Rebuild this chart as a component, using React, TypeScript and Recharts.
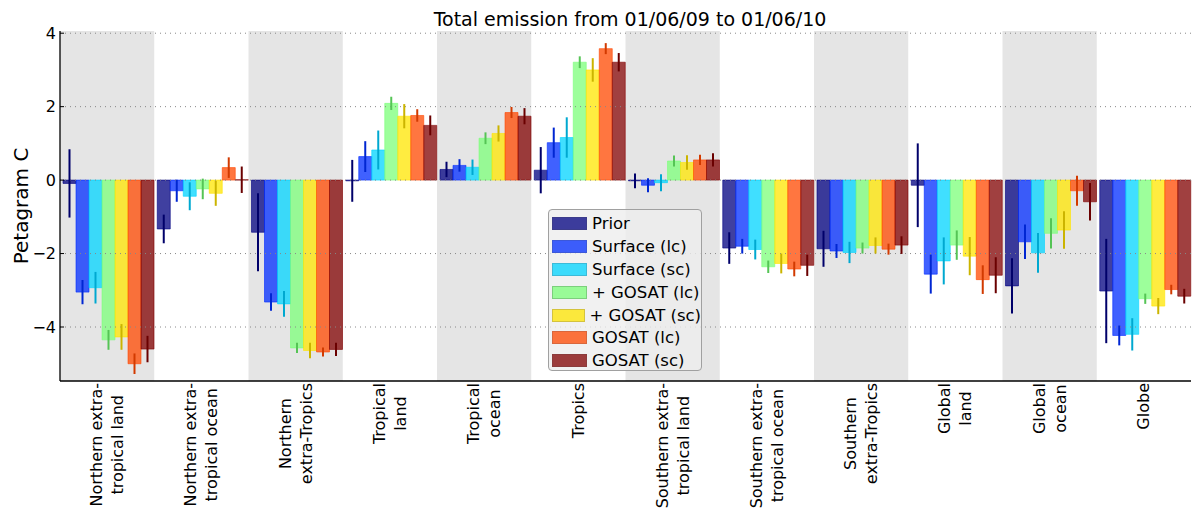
import {
  BarChart,
  Bar,
  ErrorBar,
  XAxis,
  YAxis,
  ReferenceArea,
  ReferenceLine,
} from "recharts"

const categories = [
  "Northern extra-\ntropical land",
  "Northern extra-\ntropical ocean",
  "Northern\nextra-Tropics",
  "Tropical\nland",
  "Tropical\nocean",
  "Tropics",
  "Southern extra-\ntropical land",
  "Southern extra-\ntropical ocean",
  "Southern\nextra-Tropics",
  "Global\nland",
  "Global\nocean",
  "Globe",
]

const prior = [-0.09, -1.33, -1.42, -0.02, 0.29, 0.27, -0.02, -1.85, -1.87, -0.14, -2.88, -3.02]
const priorErr = [0.93, 0.39, 1.06, 0.57, 0.21, 0.63, 0.2, 0.43, 0.49, 1.14, 0.75, 1.42]
const surfaceLc = [-3.05, -0.29, -3.32, 0.64, 0.4, 1.02, -0.14, -1.8, -1.93, -2.56, -1.68, -4.23]
const surfaceLcErr = [0.33, 0.3, 0.24, 0.42, 0.17, 0.41, 0.19, 0.2, 0.19, 0.53, 0.47, 0.27]
const surfaceSc = [-2.93, -0.44, -3.37, 0.82, 0.35, 1.16, -0.07, -1.89, -1.97, -2.2, -1.98, -4.2]
const surfaceScErr = [0.43, 0.38, 0.35, 0.53, 0.21, 0.55, 0.23, 0.27, 0.29, 0.64, 0.54, 0.44]
const plusGosatLc = [-4.35, -0.24, -4.57, 2.09, 1.14, 3.21, 0.52, -2.36, -1.85, -1.77, -1.45, -3.23]
const plusGosatLcErr = [0.27, 0.28, 0.14, 0.18, 0.16, 0.16, 0.15, 0.17, 0.15, 0.4, 0.41, 0.14]
const plusGosatSc = [-4.27, -0.36, -4.64, 1.74, 1.27, 3.0, 0.48, -2.27, -1.78, -2.07, -1.36, -3.43]
const plusGosatScErr = [0.35, 0.34, 0.21, 0.33, 0.22, 0.32, 0.2, 0.27, 0.22, 0.52, 0.51, 0.22]
const gosatLc = [-5.0, 0.34, -4.68, 1.76, 1.84, 3.58, 0.55, -2.42, -1.88, -2.71, -0.29, -2.98]
const gosatLcErr = [0.28, 0.28, 0.12, 0.17, 0.15, 0.15, 0.14, 0.2, 0.15, 0.39, 0.41, 0.13]
const gosatSc = [-4.6, 0.01, -4.61, 1.49, 1.74, 3.21, 0.55, -2.32, -1.77, -2.59, -0.59, -3.16]
const gosatScErr = [0.36, 0.36, 0.18, 0.27, 0.22, 0.25, 0.18, 0.29, 0.24, 0.49, 0.51, 0.2]

const yTicks = [-4, -2, 0, 2, 4]

const series = [
  { key: "prior", name: "Prior", values: prior, errors: priorErr, color: "#000080", errColor: "#00006a" },
  { key: "surfaceLc", name: "Surface (lc)", values: surfaceLc, errors: surfaceLcErr, color: "#002cff", errColor: "#0026d2" },
  { key: "surfaceSc", name: "Surface (sc)", values: surfaceSc, errors: surfaceScErr, color: "#00d4ff", errColor: "#00a8d0" },
  { key: "plusGosatLc", name: "+ GOSAT (lc)", values: plusGosatLc, errors: plusGosatLcErr, color: "#7cff79", errColor: "#55c455" },
  { key: "plusGosatSc", name: "+ GOSAT (sc)", values: plusGosatSc, errors: plusGosatScErr, color: "#ffe500", errColor: "#cbb400" },
  { key: "gosatLc", name: "GOSAT (lc)", values: gosatLc, errors: gosatLcErr, color: "#ff4800", errColor: "#d23a00" },
  { key: "gosatSc", name: "GOSAT (sc)", values: gosatSc, errors: gosatScErr, color: "#800000", errColor: "#6a0000" },
]

const data = categories.map((name, i) => {
  const row: Record<string, string | number> = { name }
  series.forEach((s) => {
    row[s.key] = s.values[i]
    row[s.key + "Err"] = s.errors[i]
  })
  return row
})

const FONT = "DejaVu Sans"

let ctx: CanvasRenderingContext2D | null = null
function textWidth(s: string, size: number) {
  if (!ctx) ctx = document.createElement("canvas").getContext("2d")
  if (!ctx) return s.length * size * 0.6
  ctx.font = `${size}px "${FONT}"`
  return ctx.measureText(s).width
}

function CategoryTick(props: any) {
  const { x, y, payload } = props
  const lines = String(payload.value).split("\n")
  const longest = Math.max(...lines.map((l) => textWidth(l, 16)))
  const cy = y + 2 + longest / 2
  const gap = 21
  return (
    <text
      transform={`rotate(-90 ${x} ${cy})`}
      textAnchor="middle"
      fontSize={16}
      fontFamily={FONT}
      fill="#000"
    >
      {lines.map((line, i) => (
        <tspan key={i} x={x} y={cy + (i - (lines.length - 1) / 2) * gap} dy="0.35em">
          {line}
        </tspan>
      ))}
    </text>
  )
}

const fmt = (v: number) => (v < 0 ? "\u2212" + Math.abs(v) : String(v))

function LegendBox() {
  return (
    <div
      style={{
        position: "absolute",
        left: 548,
        top: 209,
        width: 154,
        height: 162,
        background: "rgba(238,238,238,0.8)",
        border: "1px solid #a0a0a0",
        borderRadius: 4,
        fontFamily: FONT,
        fontSize: 16.5,
        boxSizing: "border-box",
        paddingTop: 2,
      }}
    >
      {series.map((s) => (
        <div key={s.key} style={{ display: "flex", alignItems: "center", height: 22.9, whiteSpace: "nowrap" }}>
          <div
            style={{
              width: 35,
              height: 13,
              marginLeft: 3,
              marginRight: 5,
              background: s.color,
              opacity: 0.75,
              boxSizing: "border-box",
              border: `1px solid ${s.errColor}`,
            }}
          />
          <span>{s.name}</span>
        </div>
      ))}
    </div>
  )
}

export default function App() {
  return (
    <div style={{ position: "absolute", left: 0, top: 0, width: 1193, height: 513, background: "#fff" }}>
      <BarChart
        width={1193}
        height={513}
        data={data}
        margin={{ top: 31, right: 2, left: 0, bottom: 0 }}
        barGap={0}
        barCategoryGap={3}
      >
        <XAxis
          dataKey="name"
          interval={0}
          height={132}
          tickSize={0}
          tickMargin={0}
          tickLine={false}
          tick={<CategoryTick />}
          axisLine={{ stroke: "#000", strokeWidth: 1.3 }}
        />
        <XAxis
          xAxisId="top"
          dataKey="name"
          orientation="top"
          height={0}
          tick={false}
          tickLine={false}
          axisLine={{ stroke: "#000", strokeWidth: 1.3 }}
        />
        <YAxis
          domain={[-5.47, 4.06]}
          ticks={yTicks}
          allowDataOverflow
          width={60}
          tickSize={-4}
          tickMargin={8}
          tickFormatter={fmt}
          tick={{ fontSize: 16, fill: "#000", fontFamily: FONT }}
          tickLine={{ stroke: "#000" }}
          axisLine={{ stroke: "#000", strokeWidth: 1.3 }}
        />
        <YAxis
          yAxisId="right"
          orientation="right"
          domain={[-5.47, 4.06]}
          ticks={yTicks}
          allowDataOverflow
          width={0}
          tickSize={-4}
          tick={false}
          tickLine={{ stroke: "#000" }}
          axisLine={{ stroke: "#000", strokeWidth: 1.3 }}
        />
        {categories.map((c, i) =>
          i % 2 === 0 ? (
            <ReferenceArea key={c} x1={c} x2={c} fill="#e5e5e5" fillOpacity={1} stroke="none" ifOverflow="visible" />
          ) : null
        )}
        {yTicks.map((t) => (
          <ReferenceLine key={t} y={t} stroke="#888" strokeDasharray="1 4" strokeWidth={1} />
        ))}
        {series.map((s) => (
          <Bar
            key={s.key}
            dataKey={s.key}
            name={s.name}
            fill={s.color}
            fillOpacity={0.75}
            stroke={s.color}
            strokeOpacity={0.6}
            strokeWidth={1}
            isAnimationActive={false}
          >
            <ErrorBar dataKey={s.key + "Err"} width={0} stroke={s.errColor} strokeWidth={2} />
          </Bar>
        ))}
        <text x={630} y={26} textAnchor="middle" fontSize={19} fontFamily={FONT} fill="#000">
          Total emission from 01/06/09 to 01/06/10
        </text>
        <text
          x={22}
          y={206}
          transform="rotate(-90 22 206)"
          textAnchor="middle"
          dominantBaseline="middle"
          fontSize={20}
          fontFamily={FONT}
          fill="#000"
        >
          Petagram C
        </text>
      </BarChart>
      <LegendBox />
    </div>
  )
}
